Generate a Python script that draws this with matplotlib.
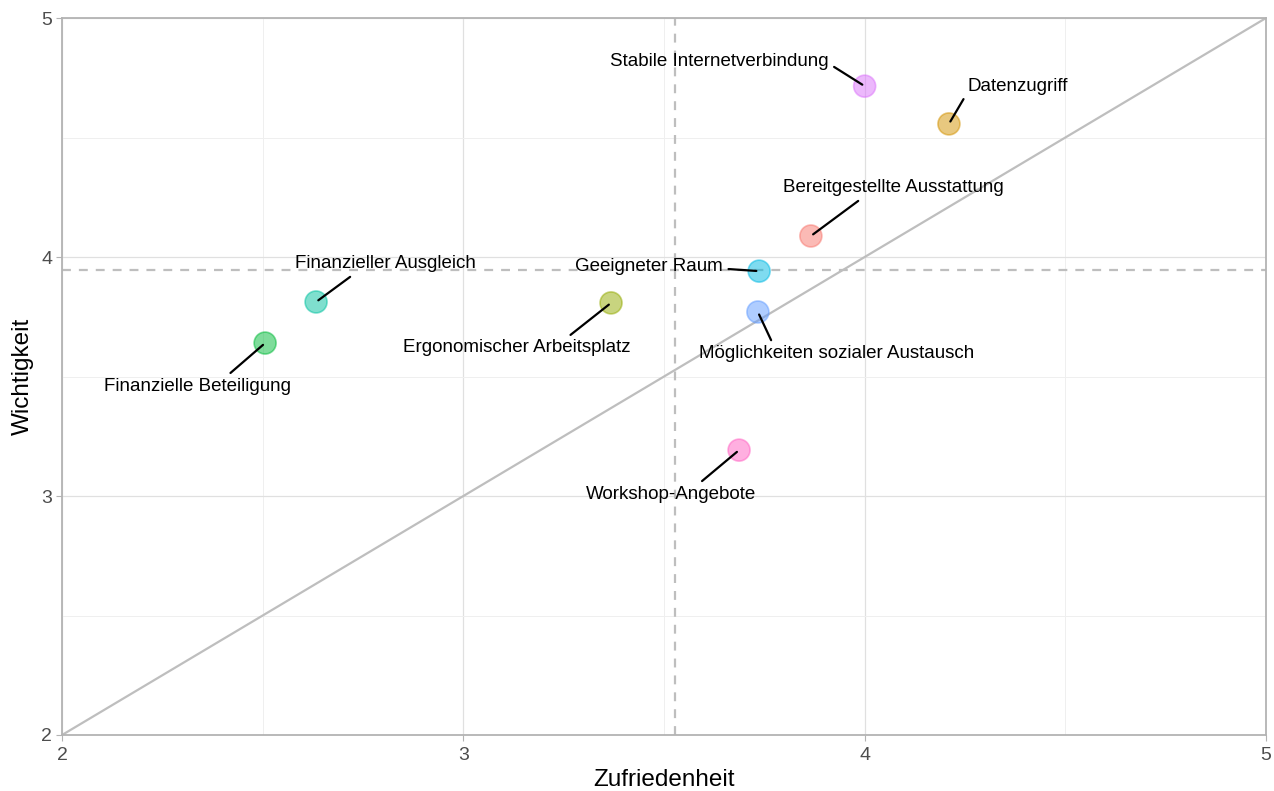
import matplotlib.pyplot as plt
import numpy as np

plt.rcParams['font.family'] = ['Liberation Sans', 'DejaVu Sans']

# data
labels = ['Bereitgestellte Ausstattung', 'Datenzugriff', 'Ergonomischer Arbeitsplatz',
          'Finanzielle Beteiligung', 'Finanzieller Ausgleich', 'Geeigneter Raum',
          'Möglichkeiten sozialer Austausch', 'Stabile Internetverbindung', 'Workshop-Angebote']
zufriedenheit = [3.866, 4.21, 3.368, 2.506, 2.633, 3.737, 3.734, 4.00, 3.687]
wichtigkeit = [4.088, 4.557, 3.808, 3.640, 3.812, 3.941, 3.770, 4.715, 3.192]
colours = ['#F8766D', '#D39200', '#93AA00', '#00BA38', '#00C19F',
           '#00B9E3', '#619CFF', '#DB72FB', '#FF61C3']

# label placement (repel layout): offset in pixels from the point and
# where on the label box the segment starts
label_offsets = {
    'Bereitgestellte Ausstattung': ((82, 48), (0.37, 0.0)),
    'Datenzugriff': ((69, 37), (0.0, 0.2)),
    'Ergonomischer Arbeitsplatz': ((-94, -45), (0.71, 1.0)),
    'Finanzielle Beteiligung': ((-68, -43), (0.65, 1.0)),
    'Finanzieller Ausgleich': ((69, 38), (0.34, 0.0)),
    'Geeigneter Raum': ((-110, 5), (1.0, 0.35)),
    'Möglichkeiten sozialer Austausch': ((79, -42), (0.27, 1.0)),
    'Stabile Internetverbindung': ((-145, 25), (1.0, 0.35)),
    'Workshop-Angebote': ((-68, -44), (0.65, 1.0)),
}

fig = plt.figure(figsize=(12.74, 7.91), dpi=100)
ax = fig.add_axes([0.0487, 0.0708, 0.945, 0.9064])

ax.set_xlim(2, 5)
ax.set_ylim(2, 5)
ax.set_xticks([2, 3, 4, 5])
ax.set_yticks([2, 3, 4, 5])
ax.set_xticks([2.5, 3.5, 4.5], minor=True)
ax.set_yticks([2.5, 3.5, 4.5], minor=True)
ax.grid(which='major', color='#E0E0E0', linewidth=0.9)
ax.grid(which='minor', color='#EFEFEF', linewidth=0.7)
ax.set_axisbelow(True)
for spine in ax.spines.values():
    spine.set_color('#B3B3B3')
    spine.set_linewidth(1.3)
ax.tick_params(which='major', length=4, color='#B3B3B3', labelcolor='#4D4D4D',
               labelsize=14)
ax.tick_params(axis='x', which='major', pad=5)
ax.tick_params(axis='y', which='major', pad=3)
ax.tick_params(which='minor', length=0)

# reference lines: diagonal and means
ax.plot([2, 5], [2, 5], color='#BEBEBE', linewidth=1.6, zorder=1)
ax.axvline(np.mean(zufriedenheit), color='#BEBEBE', linestyle=(0, (4, 3.6)), linewidth=1.6, zorder=1)
ax.axhline(np.mean(wichtigkeit), color='#BEBEBE', linestyle=(0, (4, 3.6)), linewidth=1.6, zorder=1)

ax.scatter(zufriedenheit, wichtigkeit, s=250, c=colours, alpha=0.5,
           edgecolors=colours, linewidths=1.2, zorder=3)

for name, x, y in zip(labels, zufriedenheit, wichtigkeit):
    (dx, dy), rel = label_offsets[name]
    ax.annotate(name, xy=(x, y), xytext=(dx, dy), textcoords='offset pixels',
                ha='center', va='center', fontsize=13.5, color='black',
                arrowprops=dict(arrowstyle='-', color='black', linewidth=1.6,
                                shrinkA=2, shrinkB=2, relpos=rel),
                zorder=4)

ax.set_xlabel('Zufriedenheit', fontsize=17.5, labelpad=3)
ax.set_ylabel('Wichtigkeit', fontsize=17.5, labelpad=5)

fig.savefig('out.png', dpi=100)
